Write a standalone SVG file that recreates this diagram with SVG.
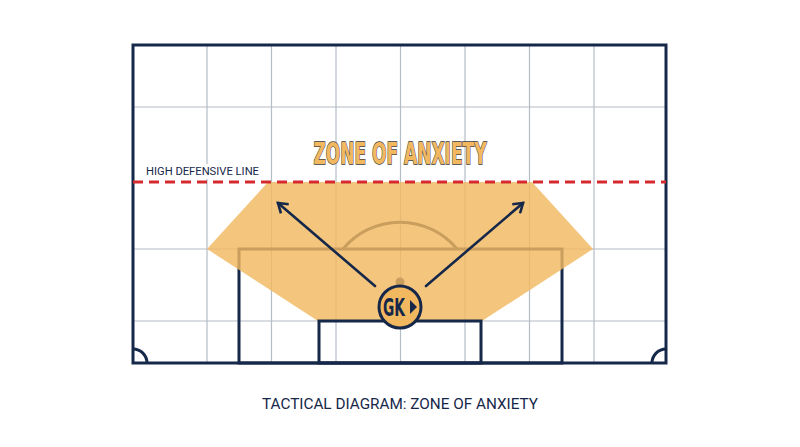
<svg xmlns="http://www.w3.org/2000/svg" width="800" height="447" viewBox="0 0 800 447">
<style>
.grid{stroke:#b4bcc6;stroke-width:1.2;fill:none}
.line{stroke:#16284a;stroke-width:3;fill:none}
.arrow{stroke:#16284a;stroke-width:2.6;fill:none;stroke-linecap:round;stroke-linejoin:miter}
.lbl{font-family:Roboto,"Liberation Sans",sans-serif;fill:#16284a}
</style>
<defs>
<marker id="ah" markerWidth="14" markerHeight="14" refX="11" refY="7" orient="auto" markerUnits="userSpaceOnUse">
<path d="M2,1 L11,7 L2,13" fill="none" stroke="#16284a" stroke-width="2.6"/>
</marker>
</defs>
<rect width="800" height="447" fill="#ffffff"/>
<g id="field">
<rect x="133" y="45" width="533" height="318" fill="#ffffff"/>
<g class="grid">
<line x1="207" y1="45" x2="207" y2="363"/>
<line x1="271.5" y1="45" x2="271.5" y2="363"/>
<line x1="336" y1="45" x2="336" y2="363"/>
<line x1="400.5" y1="45" x2="400.5" y2="363"/>
<line x1="465" y1="45" x2="465" y2="363"/>
<line x1="529.5" y1="45" x2="529.5" y2="363"/>
<line x1="594" y1="45" x2="594" y2="363"/>
<line x1="133" y1="107" x2="666" y2="107"/>
<line x1="133" y1="249" x2="666" y2="249"/>
<line x1="133" y1="321" x2="666" y2="321"/>
</g>
<rect x="239" y="249" width="323" height="114" class="line"/>
<path d="M343,249 A74,74 0 0 1 457,249" class="line"/>
<circle cx="400" cy="282" r="4.5" fill="#16284a"/>
</g>
<g id="zone">
<polygon points="268,182 532,182 593,249 482,321 318,321 207,249" fill="#f2b860" fill-opacity="0.82"/>
</g>
<g id="goal-area">
<rect x="319" y="321" width="162" height="42" class="line"/>
<path d="M133,349 A14,14 0 0 1 147,363" class="line"/>
<path d="M652,363 A14,14 0 0 1 666,349" class="line"/>
<rect x="133" y="45" width="533" height="318" class="line"/>
</g>
<g id="high-line">
<rect x="141" y="164" width="122" height="15" fill="#ffffff"/>
<line x1="133" y1="182" x2="666" y2="182" stroke="#d42a2e" stroke-width="3" stroke-dasharray="10,6"/>
<text x="146" y="175" class="lbl" font-size="11.2">HIGH DEFENSIVE LINE</text>
</g>
<g id="title">
<text x="400" y="163.5" text-anchor="middle" font-family="'Liberation Sans Narrow','DejaVu Sans Condensed','Liberation Sans',sans-serif" font-weight="bold" font-size="30" fill="#f2b860" stroke="#3b3a3a" stroke-width="1.4" paint-order="stroke" textLength="173" lengthAdjust="spacingAndGlyphs">ZONE OF ANXIETY</text>
</g>
<g id="connectors">
<line x1="375" y1="286" x2="278" y2="203" class="arrow" marker-end="url(#ah)"/>
<line x1="426" y1="286" x2="523" y2="203" class="arrow" marker-end="url(#ah)"/>
</g>
<g id="gk">
<circle cx="400" cy="307" r="21" fill="#f2b860" stroke="#16284a" stroke-width="3"/>
<text x="394" y="316" text-anchor="middle" font-family="'Liberation Sans Narrow','DejaVu Sans Condensed','Liberation Sans',sans-serif" font-weight="bold" font-size="24" fill="#16284a" textLength="22" lengthAdjust="spacingAndGlyphs">GK</text>
<polygon points="410,300 417,307 410,314" fill="#16284a"/>
</g>
<g id="caption">
<text x="400" y="409" text-anchor="middle" class="lbl" font-size="15.3">TACTICAL DIAGRAM: ZONE OF ANXIETY</text>
</g>
</svg>
